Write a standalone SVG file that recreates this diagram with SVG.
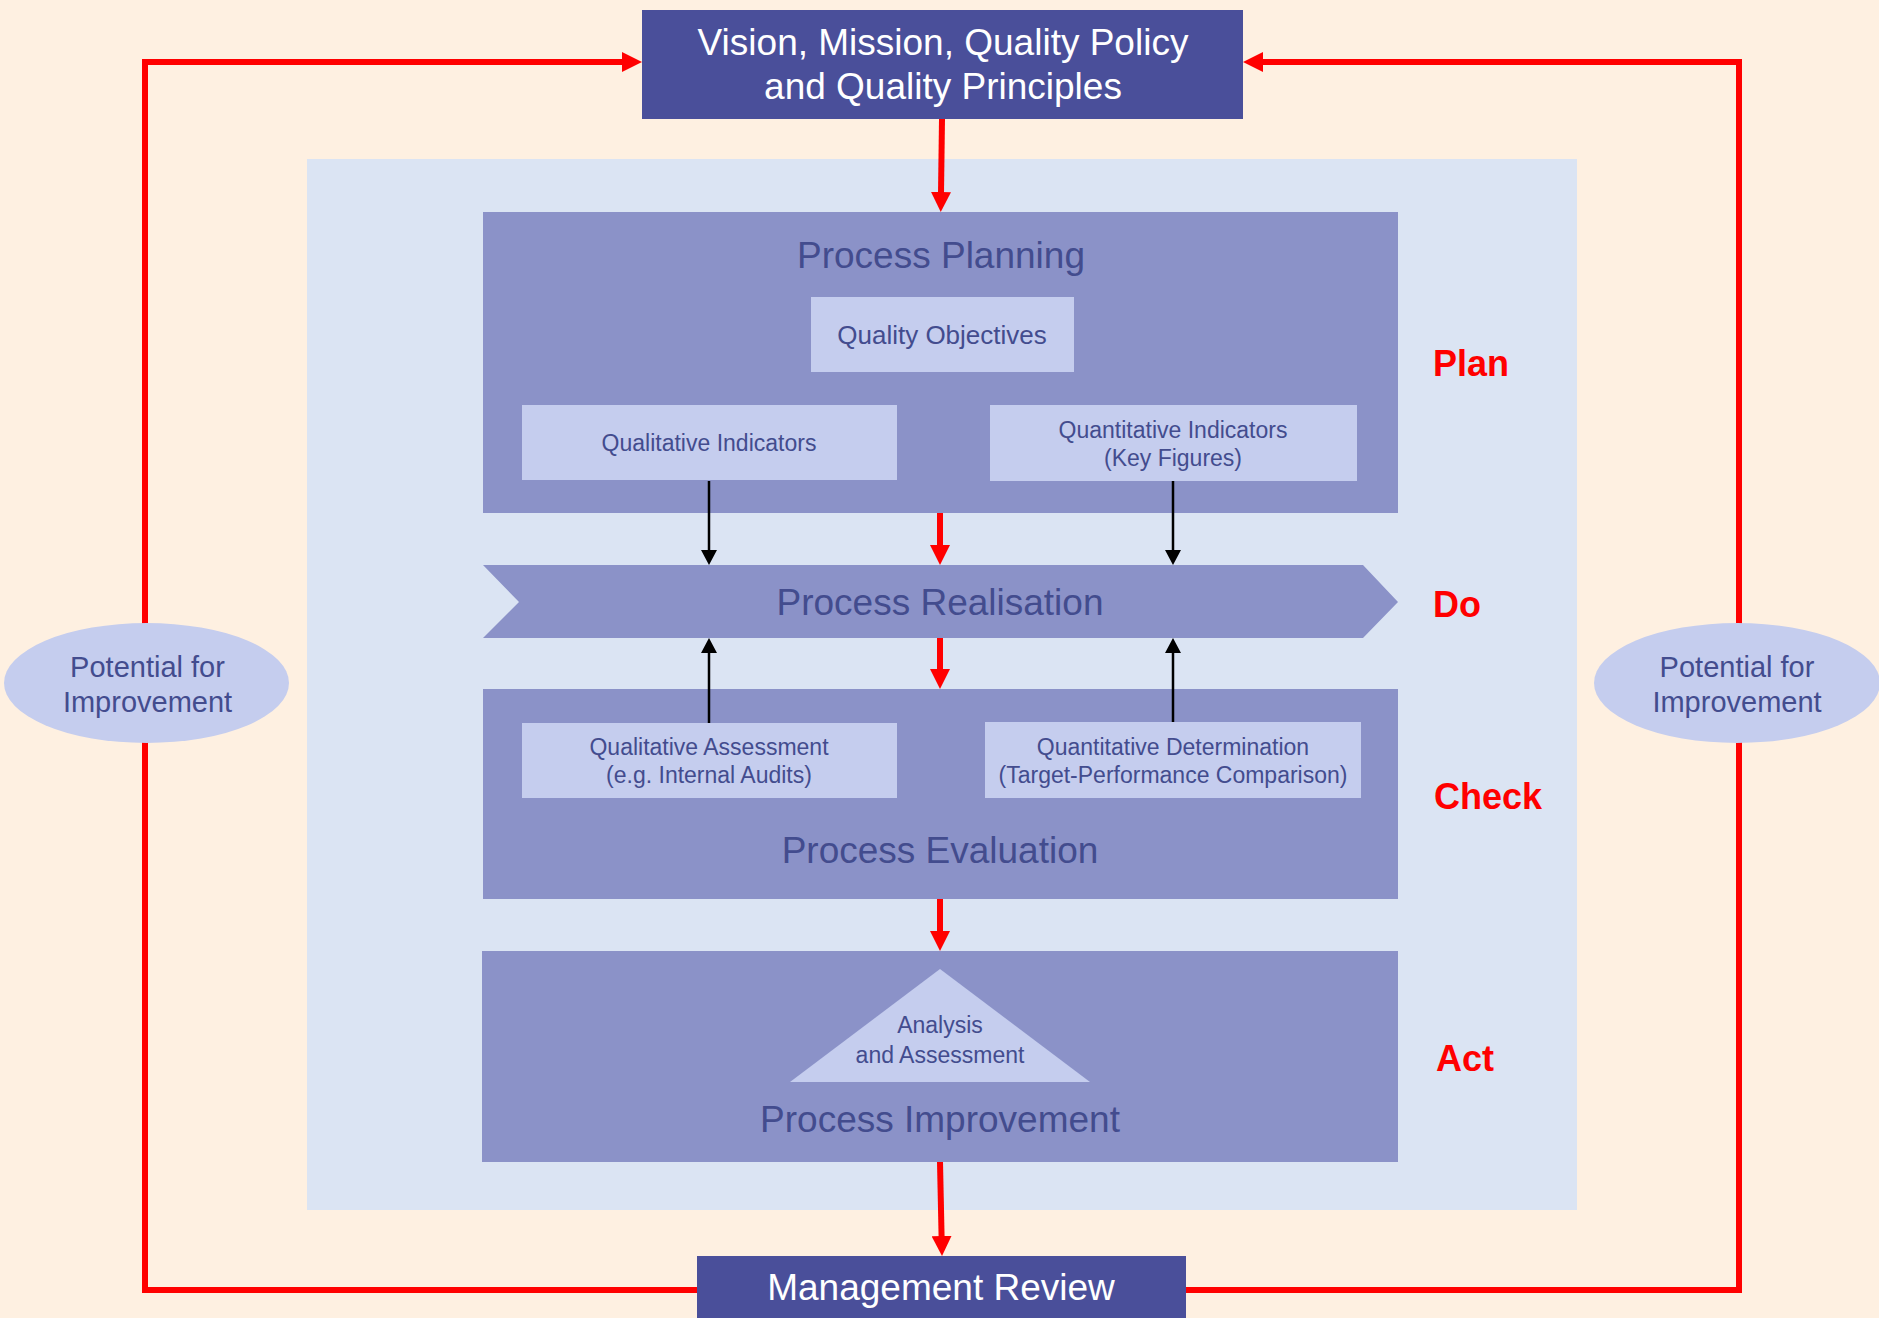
<svg xmlns="http://www.w3.org/2000/svg" width="1879" height="1318" viewBox="0 0 1879 1318">
<style>
  text { font-family: "Liberation Sans", Arial, sans-serif; }
  .dark { fill: #4A4F9A; }
  .mid { fill: #8B92C8; }
  .light { fill: #C5CDEE; }
  .wt { fill: #FFFFFF; font-size: 37px; text-anchor: middle; }
  .title { fill: #434C8E; font-size: 37px; text-anchor: middle; }
  .sub { fill: #434C8E; font-size: 23px; text-anchor: middle; }
  .pot { fill: #434C8E; font-size: 29px; text-anchor: middle; }
  .pdca { fill: #FF0000; font-size: 36px; font-weight: bold; }
  .red { stroke: #FF0000; stroke-width: 6; fill: none; stroke-linejoin: miter; }
  .blk { stroke: #000000; stroke-width: 2.5; fill: none; }
</style>
<defs>
  <marker id="ra" markerUnits="userSpaceOnUse" markerWidth="20" markerHeight="20" viewBox="0 0 20 20" refX="1" refY="10" orient="auto">
    <path d="M0,0 L20,10 L0,20 z" fill="#FF0000"/>
  </marker>
  <marker id="ba" markerUnits="userSpaceOnUse" markerWidth="15" markerHeight="16" viewBox="0 0 15 16" refX="1" refY="8" orient="auto">
    <path d="M0,0 L15,8 L0,16 z" fill="#000000"/>
  </marker>
</defs>
<rect x="0" y="0" width="1879" height="1318" fill="#FEF0E1"/>
<rect x="307" y="159" width="1270" height="1051" fill="#DBE4F3"/>

<g id="vision">
  <rect class="dark" x="642" y="10" width="601" height="109"/>
  <text class="wt" x="943" y="55">Vision, Mission, Quality Policy</text>
  <text class="wt" x="943" y="99">and Quality Principles</text>
</g>

<g id="planning">
  <rect class="mid" x="483" y="212" width="915" height="301"/>
  <text class="title" x="941" y="268">Process Planning</text>
</g>
<g id="objectives">
  <rect class="light" x="811" y="297" width="263" height="75"/>
  <text class="sub" x="942" y="344" style="font-size:26px">Quality Objectives</text>
</g>
<g id="qual-ind">
  <rect class="light" x="522" y="405" width="375" height="75"/>
  <text class="sub" x="709" y="451">Qualitative Indicators</text>
</g>
<g id="quant-ind">
  <rect class="light" x="990" y="405" width="367" height="76"/>
  <text class="sub" x="1173" y="438">Quantitative Indicators</text>
  <text class="sub" x="1173" y="466">(Key Figures)</text>
</g>

<g id="realisation">
  <polygon class="mid" points="483,565 1363,565 1398,602 1363,638 483,638 519,602"/>
  <text class="title" x="940" y="615">Process Realisation</text>
</g>

<g id="evaluation">
  <rect class="mid" x="483" y="689" width="915" height="210"/>
  <text class="title" x="940" y="863">Process Evaluation</text>
</g>
<g id="qual-assess">
  <rect class="light" x="522" y="723" width="375" height="75"/>
  <text class="sub" x="709" y="755">Qualitative Assessment</text>
  <text class="sub" x="709" y="783">(e.g. Internal Audits)</text>
</g>
<g id="quant-det">
  <rect class="light" x="985" y="722" width="376" height="76"/>
  <text class="sub" x="1173" y="755">Quantitative Determination</text>
  <text class="sub" x="1173" y="783">(Target-Performance Comparison)</text>
</g>

<g id="improvement">
  <rect class="mid" x="482" y="951" width="916" height="211"/>
  <text class="title" x="940" y="1132">Process Improvement</text>
</g>
<g id="analysis">
  <polygon class="light" points="940,969 1090,1082 790,1082"/>
  <text class="sub" x="940" y="1033">Analysis</text>
  <text class="sub" x="940" y="1063">and Assessment</text>
</g>

<g id="review">
  <rect class="dark" x="697" y="1256" width="489" height="62"/>
  <text class="wt" x="941" y="1300">Management Review</text>
</g>

<g id="connectors">
  <line class="red" x1="942" y1="119" x2="941" y2="193" marker-end="url(#ra)"/>
  <line class="red" x1="940" y1="513" x2="940" y2="546" marker-end="url(#ra)"/>
  <line class="red" x1="940" y1="638" x2="940" y2="670" marker-end="url(#ra)"/>
  <line class="red" x1="940" y1="899" x2="940" y2="932" marker-end="url(#ra)"/>
  <line class="red" x1="940" y1="1162" x2="941.6" y2="1237" marker-end="url(#ra)"/>
  <line class="blk" x1="709" y1="481" x2="709" y2="551" marker-end="url(#ba)"/>
  <line class="blk" x1="1173" y1="481" x2="1173" y2="551" marker-end="url(#ba)"/>
  <line class="blk" x1="709" y1="723" x2="709" y2="652" marker-end="url(#ba)"/>
  <line class="blk" x1="1173" y1="722" x2="1173" y2="652" marker-end="url(#ba)"/>
  <path class="red" d="M697,1290 H145 V62 H623" marker-end="url(#ra)"/>
  <path class="red" d="M1186,1290 H1739 V62 H1262" marker-end="url(#ra)"/>
</g>

<g id="potential-left">
  <ellipse class="light" cx="146.5" cy="683" rx="142.5" ry="60"/>
  <text class="pot" x="147.5" y="677">Potential for</text>
  <text class="pot" x="147.5" y="712">Improvement</text>
</g>
<g id="potential-right">
  <ellipse class="light" cx="1737" cy="683" rx="143" ry="60"/>
  <text class="pot" x="1737" y="677">Potential for</text>
  <text class="pot" x="1737" y="712">Improvement</text>
</g>

<g id="pdca-labels">
  <text class="pdca" x="1433" y="376">Plan</text>
  <text class="pdca" x="1433" y="617">Do</text>
  <text class="pdca" x="1434" y="809">Check</text>
  <text class="pdca" x="1436" y="1071">Act</text>
</g>
</svg>
